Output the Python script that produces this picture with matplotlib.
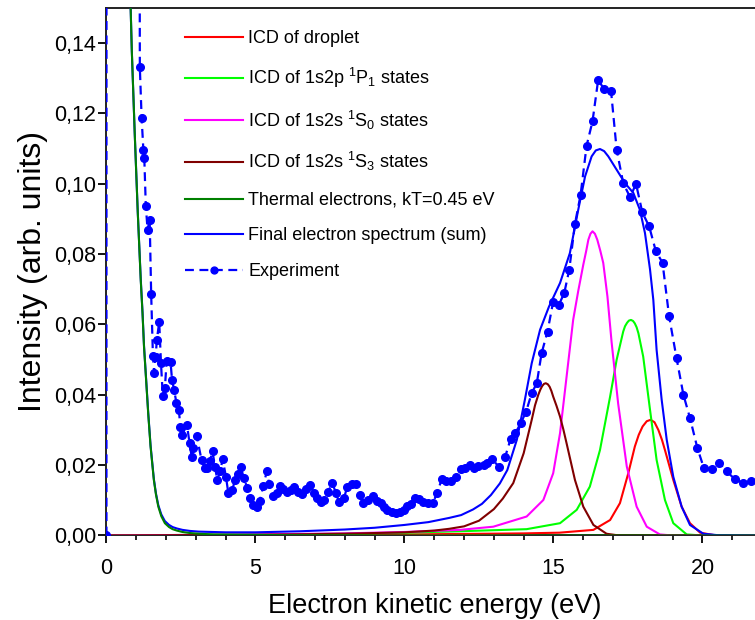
import matplotlib
matplotlib.use("Agg")
import matplotlib.pyplot as plt
from matplotlib.ticker import MultipleLocator, FuncFormatter

plt.rcParams['font.family'] = ['Liberation Sans', 'DejaVu Sans']
plt.rcParams['mathtext.fontset'] = 'custom'
plt.rcParams['mathtext.rm'] = 'Liberation Sans'
plt.rcParams['mathtext.it'] = 'Liberation Sans:italic'
plt.rcParams['mathtext.bf'] = 'Liberation Sans:bold'

# ---------------- data ----------------
red_x = [0, 5, 10, 14, 15.2, 16.34, 16.9, 17.23, 17.51, 17.73, 17.86, 17.99, 18.13, 18.26, 18.39, 18.52, 18.64, 18.74, 19.02, 19.3, 19.58, 19.92, 20.4, 22]
red_y = [0.0, 0.0001, 0.0003, 0.0006, 0.0008, 0.0016, 0.0044, 0.0092, 0.0177, 0.0253, 0.0286, 0.0310, 0.0325, 0.0329, 0.0322, 0.0300, 0.0272, 0.0243, 0.0158, 0.0082, 0.0035, 0.0008, 0.0001, 0.0]

green_x = [0, 5, 8, 10, 11.86, 14.1, 15.22, 15.78, 16.22, 16.56, 16.9, 17.12, 17.34, 17.40, 17.47, 17.53, 17.6, 17.67, 17.73, 17.79, 17.85, 18.01, 18.24, 18.46, 18.74, 19.02, 19.47, 20.0, 22]
green_y = [0.0, 0.0003, 0.0005, 0.0008, 0.0012, 0.0018, 0.0035, 0.0073, 0.0139, 0.0243, 0.0395, 0.0500, 0.0580, 0.0595, 0.0605, 0.0611, 0.0613, 0.0610, 0.0603, 0.0592, 0.0575, 0.0509, 0.0357, 0.0215, 0.0101, 0.0035, 0.0003, 0.0, 0.0]

magenta_x = [0, 5, 8, 10, 11.86, 12.98, 14.1, 14.66, 14.99, 15.22, 15.44, 15.66, 15.83, 16.0, 16.10, 16.17, 16.24, 16.31, 16.39, 16.47, 16.57, 16.67, 16.81, 16.95, 17.17, 17.46, 17.79, 18.13, 18.57, 19.0, 22]
magenta_y = [0.0, 0.0003, 0.0006, 0.0010, 0.0016, 0.0025, 0.0054, 0.0101, 0.0177, 0.0291, 0.0452, 0.0613, 0.0695, 0.0770, 0.0810, 0.0841, 0.0858, 0.0865, 0.0858, 0.0841, 0.0810, 0.0775, 0.0680, 0.0550, 0.0375, 0.0196, 0.0082, 0.0025, 0.0003, 0.0, 0.0]

brown_x = [0, 5, 8, 10, 11, 11.5, 12.0, 12.5, 13.0, 13.3, 13.65, 14.0, 14.27, 14.38, 14.49, 14.56, 14.62, 14.68, 14.74, 14.81, 14.87, 14.93, 14.99, 15.10, 15.22, 15.33, 15.44, 15.72, 16.0, 16.34, 16.78, 17.2, 22]
brown_y = [0.0, 0.0002, 0.0005, 0.0009, 0.0014, 0.0019, 0.0026, 0.0042, 0.0075, 0.0105, 0.0149, 0.0234, 0.0329, 0.0370, 0.0400, 0.0415, 0.0425, 0.0431, 0.0433, 0.0430, 0.0423, 0.0411, 0.0395, 0.0369, 0.0338, 0.0302, 0.0262, 0.0158, 0.0082, 0.0030, 0.0005, 0.0, 0.0]

thermal_x = [0.70, 0.78, 0.85, 0.95, 1.05, 1.15, 1.21, 1.26, 1.33, 1.40, 1.48, 1.59, 1.66, 1.74, 1.84, 1.96, 2.10, 2.22, 2.36, 2.55, 2.80, 3.10, 3.60, 4.50, 6.00, 10.0, 22.0]
thermal_y = [0.200, 0.160, 0.138, 0.114, 0.092, 0.0727, 0.0632, 0.0537, 0.0443, 0.0348, 0.0253, 0.0158, 0.0117, 0.0082, 0.0055, 0.0035, 0.0024, 0.0018, 0.0014, 0.0010, 0.0007, 0.0005, 0.0003, 0.0002, 0.0001, 0.0, 0.0]

sum_x = [0.70, 0.78, 0.85, 0.95, 1.05, 1.15, 1.21, 1.26, 1.33, 1.40, 1.48, 1.59, 1.66, 1.74, 1.84, 1.96, 2.10, 2.22, 2.36, 2.55, 2.80, 3.10, 4.00, 5.00, 6.50, 8.00, 9.00, 10.00, 10.80, 11.50, 11.90, 12.30, 12.60, 12.90, 13.20, 13.45, 13.77, 14.04, 14.27, 14.55, 14.85, 15.22, 15.55, 15.83, 16.06, 16.28, 16.42, 16.56, 16.70, 16.84, 17.12, 17.40, 17.68, 17.90, 18.07, 18.24, 18.35, 18.46, 18.63, 18.80, 19.02, 19.30, 19.58, 20.03, 20.50, 22.0]
sum_y = [0.200, 0.160, 0.138, 0.114, 0.092, 0.0730, 0.0635, 0.0540, 0.0446, 0.0351, 0.0256, 0.0161, 0.0120, 0.0086, 0.0060, 0.0041, 0.0030, 0.0024, 0.0020, 0.0016, 0.0013, 0.0011, 0.0009, 0.0009, 0.0012, 0.0017, 0.0022, 0.0030, 0.0038, 0.0050, 0.0058, 0.0074, 0.0090, 0.0115, 0.0148, 0.0186, 0.0272, 0.0386, 0.0490, 0.0585, 0.0651, 0.0718, 0.0803, 0.0926, 0.1021, 0.1078, 0.1095, 0.1099, 0.1093, 0.1078, 0.1040, 0.1002, 0.0974, 0.0926, 0.0860, 0.0756, 0.0670, 0.0528, 0.0386, 0.0272, 0.0167, 0.0082, 0.0030, 0.0005, 0.0001, 0.0]

exp_x = [0.0, 0.02, 1.08, 1.12, 1.18, 1.24, 1.27, 1.32, 1.38, 1.45, 1.50, 1.56, 1.60, 1.65, 1.69, 1.77, 1.83, 1.89, 1.96, 2.02,
         2.15, 2.20, 2.27, 2.35, 2.43, 2.48, 2.54, 2.70, 2.79, 2.86, 2.92, 3.03, 3.19, 3.31, 3.38, 3.47, 3.56, 3.64, 3.72, 3.81,
         3.90, 4.01, 4.09, 4.22, 4.31, 4.40, 4.51, 4.61, 4.73, 4.82, 4.93, 5.04, 5.15, 5.26, 5.38, 5.46, 5.60, 5.73, 5.82, 5.93,
         6.07, 6.18, 6.30, 6.44, 6.57, 6.70, 6.83, 6.96, 7.08, 7.19, 7.30, 7.44, 7.58, 7.70, 7.81, 7.97, 8.08, 8.23, 8.37, 8.51,
         8.62, 8.79, 8.93, 9.07, 9.20, 9.31, 9.42, 9.57, 9.72, 9.85, 9.98, 10.10, 10.21, 10.35, 10.50, 10.63, 10.80, 10.95, 11.10, 11.25,
         11.39, 11.55, 11.73, 11.89, 12.03, 12.20, 12.33, 12.48, 12.67, 12.78, 12.93, 13.17, 13.38, 13.56, 13.72, 13.90, 14.08, 14.27, 14.44, 14.60,
         14.80, 14.99, 15.18, 15.36, 15.53, 15.72, 15.91, 16.11, 16.31, 16.50, 16.69, 16.93, 17.12, 17.34, 17.57, 17.77, 17.98, 18.21, 18.43, 18.66,
         18.88, 19.13, 19.36, 19.58, 19.83, 20.05, 20.31, 20.56, 20.81, 21.09, 21.35, 21.62]
exp_y = [0.0, 2.0, 0.40, 0.1332, 0.1187, 0.1095, 0.1073, 0.0938, 0.0869, 0.0898, 0.0688, 0.0509, 0.0463, 0.0507, 0.0556, 0.0607, 0.0490, 0.0397, 0.0420, 0.0495,
         0.0494, 0.0443, 0.0414, 0.0376, 0.0357, 0.0308, 0.0286, 0.0315, 0.0262, 0.0224, 0.0250, 0.0282, 0.0215, 0.0191, 0.0191, 0.0213, 0.0239, 0.0196, 0.0158, 0.0182,
         0.0217, 0.0167, 0.0120, 0.0128, 0.0158, 0.0175, 0.0194, 0.0163, 0.0134, 0.0106, 0.0087, 0.0082, 0.0099, 0.0141, 0.0182, 0.0147, 0.0111, 0.0120, 0.0141, 0.0131,
         0.0125, 0.0130, 0.0139, 0.0125, 0.0118, 0.0131, 0.0144, 0.0122, 0.0106, 0.0094, 0.0101, 0.0125, 0.0150, 0.0120, 0.0094, 0.0106, 0.0139, 0.0147, 0.0147, 0.0115,
         0.0092, 0.0101, 0.0113, 0.0099, 0.0092, 0.0080, 0.0073, 0.0068, 0.0065, 0.0068, 0.0073, 0.0084, 0.0090, 0.0106, 0.0103, 0.0096, 0.0092, 0.0092, 0.0122, 0.0160,
         0.0156, 0.0156, 0.0167, 0.0188, 0.0191, 0.0201, 0.0191, 0.0198, 0.0201, 0.0205, 0.0217, 0.0196, 0.0224, 0.0274, 0.0291, 0.0319, 0.0352, 0.0405, 0.0433, 0.0518,
         0.0580, 0.0665, 0.0656, 0.0689, 0.0756, 0.0886, 0.0969, 0.1108, 0.1178, 0.1296, 0.1270, 0.1265, 0.1097, 0.1002, 0.0962, 0.1000, 0.0919, 0.0879, 0.0810, 0.0775,
         0.0623, 0.0504, 0.0400, 0.0334, 0.0248, 0.0191, 0.0188, 0.0207, 0.0182, 0.0160, 0.0150, 0.0156]

labels = ["ICD of droplet",
          r"ICD of 1s2p $\mathregular{^1}$P$\mathregular{_1}$ states",
          r"ICD of 1s2s $\mathregular{^1}$S$\mathregular{_0}$ states",
          r"ICD of 1s2s $\mathregular{^1}$S$\mathregular{_3}$ states",
          "Thermal electrons, kT=0.45 eV",
          "Final electron spectrum (sum)",
          "Experiment"]
x_label = "Electron kinetic energy (eV)"
y_label = "Intensity (arb. units)"

# ---------------- figure ----------------
fig = plt.figure(figsize=(7.55, 6.2), dpi=100)
ax = fig.add_axes([0.141, 0.1363, 0.8684, 0.8508])

lw = 1.5
h_red, = ax.plot(red_x, red_y, color='#ff0000', lw=lw, zorder=3)
h_green, = ax.plot(green_x, green_y, color='#00ff00', lw=lw, zorder=3)
h_mag, = ax.plot(magenta_x, magenta_y, color='#ff00ff', lw=lw, zorder=3)
h_brown, = ax.plot(brown_x, brown_y, color='#800000', lw=lw, zorder=3)
h_sum, = ax.plot(sum_x, sum_y, color='#0000ff', lw=lw, zorder=3)
h_therm, = ax.plot(thermal_x, thermal_y, color='#008000', lw=lw, zorder=4)
h_exp, = ax.plot(exp_x, exp_y, color='#0000ff', lw=1.6, linestyle=(0, (4, 2.5)),
                 marker='o', markersize=5.5, zorder=5)

ax.set_xlim(0, 22)
ax.set_ylim(0, 0.15)
ax.xaxis.set_major_locator(MultipleLocator(5))
ax.xaxis.set_minor_locator(MultipleLocator(1))
ax.yaxis.set_major_locator(MultipleLocator(0.02))
ax.yaxis.set_major_formatter(FuncFormatter(lambda v, p: f"{v:.2f}".replace('.', ',')))
ax.xaxis.set_major_formatter(FuncFormatter(lambda v, p: f"{v:g}"))

ax.tick_params(axis='both', which='major', direction='out', length=6, width=1.3,
               labelsize=15.5, top=False, right=False)
ax.tick_params(axis='x', which='major', pad=10)
ax.tick_params(axis='y', which='major', pad=1.5)
ax.tick_params(axis='both', which='minor', direction='out', length=3.5, width=1.2,
               top=False, right=False)
for s in ax.spines.values():
    s.set_linewidth(1.4)
    s.set_color('#222222')

ax.set_xlabel(x_label, fontsize=19.5, labelpad=10)
ax.set_ylabel(y_label, fontsize=23, labelpad=4)

leg = ax.legend([h_red, h_green, h_mag, h_brown, h_therm, h_sum, h_exp], labels,
                loc='upper left', bbox_to_anchor=(0.1197, 0.958), frameon=False,
                fontsize=13, handlelength=3.2, handletextpad=0.3,
                labelspacing=1.03, borderpad=0, borderaxespad=0,
                numpoints=1, markerscale=0.9)

fig.savefig("out.png", dpi=100)
